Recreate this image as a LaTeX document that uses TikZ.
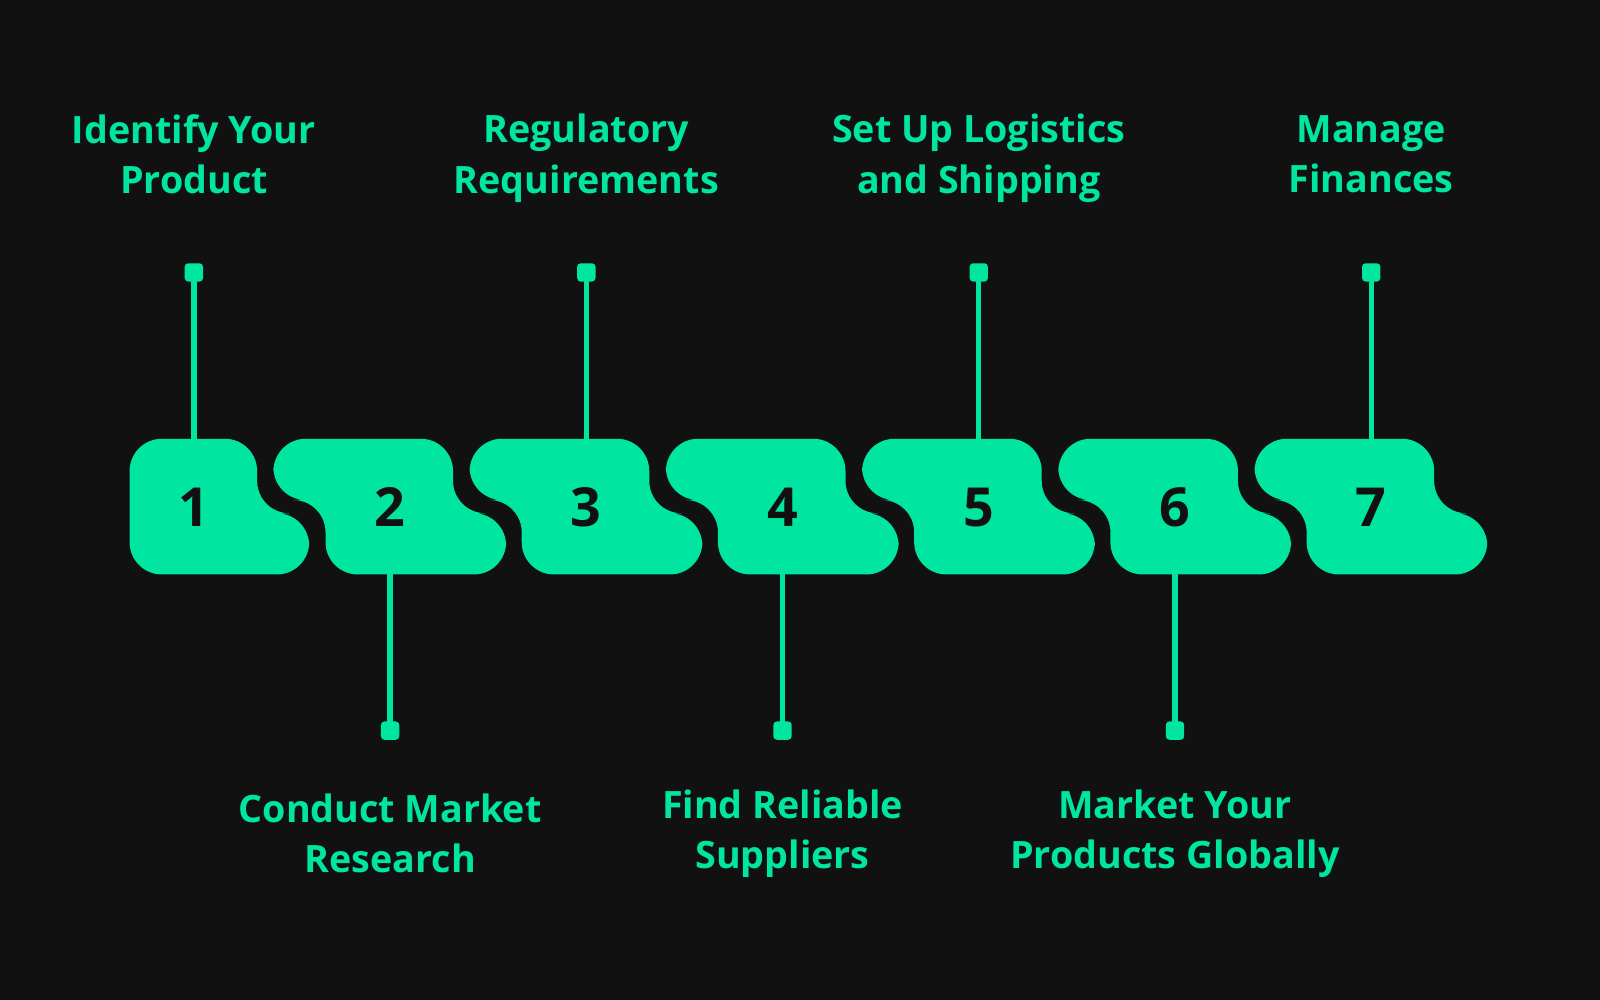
\documentclass[tikz,border=0pt]{standalone}
\usepackage{fontspec}
\setmainfont{Open Sans}
\definecolor{bg}{HTML}{111111}
\definecolor{gr}{HTML}{00E5A0}
\begin{document}
\begin{tikzpicture}[x=0.01cm,y=-0.01cm,
  blk/.style={fill=gr,rounded corners=9pt},
  stem/.style={draw=gr,line width=1.5pt},
  capbox/.style={fill=gr,rounded corners=1pt},
  lbl/.style={text=gr,font=\fontsize{10.5}{14}\selectfont\bfseries,align=center},
  num/.style={text=bg,font=\fontsize{15}{18}\selectfont\bfseries}]
\fill[bg] (0,0) rectangle (1568,980);
\useasboundingbox (0,0) rectangle (1568,980);
% block 1
\fill[blk] (127,430) -- (252,430) -- (252,503) -- (303,503) -- (303,563) -- (127,563) -- cycle;
\node[num] (n1) at (190,497) {1};
\foreach \k in {2,...,7}{
  \pgfmathsetmacro{\o}{192.3*(\k-2)}
  \begin{scope}[xshift=\o*0.01cm]
  \fill[blk] (268,430) -- (444,430) -- (444,503) -- (496,503) -- (496,563) -- (319,563) -- (319,490) -- (268,490) -- cycle;
  \end{scope}
}
\foreach \k in {2,...,7}{
  \pgfmathsetmacro{\cx}{190+192.3*(\k-1)}
  \node[num] (n\k) at (\cx,497) {\k};
}
% top stems
\foreach \k/\t/\ty in {1/{Identify Your\\Product}/151, 3/{Regulatory\\Requirements}/155, 5/{Set Up Logistics\\and Shipping}/155, 7/{Manage\\Finances}/151}{
  \pgfmathsetmacro{\cx}{190+192.3*(\k-1)}
  \coordinate (t\k) at (\cx,267);
  \coordinate (b\k) at (\cx,431);
  \draw[stem] (t\k) -- (b\k);
  \fill[capbox] (\cx-9,258) rectangle (\cx+9,276);
  \node[lbl] (l\k) at (\cx,\ty) {\t};
}
% bottom stems
\foreach \k/\t in {2/{Conduct Market\\Research}, 4/{Find Reliable\\Suppliers}, 6/{Market Your\\Products Globally}}{
  \pgfmathsetmacro{\cx}{190+192.3*(\k-1)}
  \coordinate (t\k) at (\cx,562);
  \coordinate (b\k) at (\cx,716);
  \draw[stem] (t\k) -- (b\k);
  \fill[capbox] (\cx-9,707) rectangle (\cx+9,725);
  \node[lbl] (l\k) at (\cx,817) {\t};
}
\end{tikzpicture}
\end{document}
